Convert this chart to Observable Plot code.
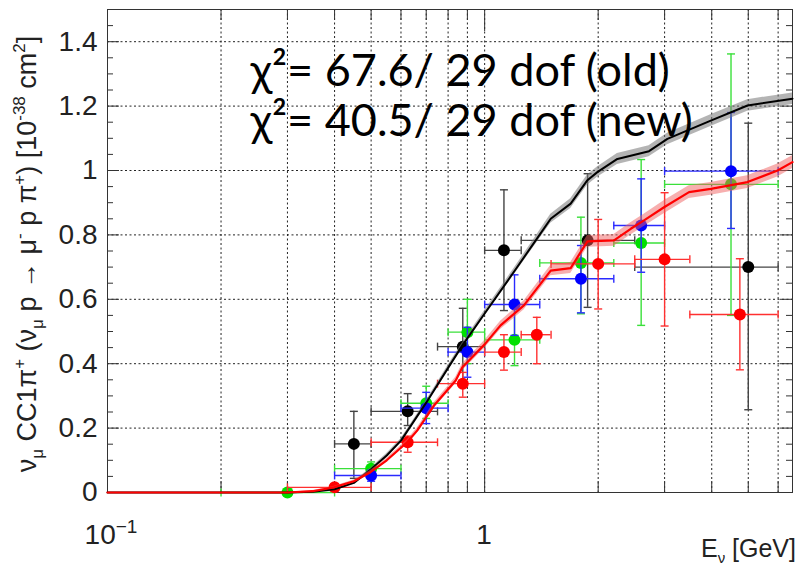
<!DOCTYPE html>
<html>
<head>
<meta charset="utf-8">
<script src="https://cdn.jsdelivr.net/npm/d3@7"></script>
<script src="https://cdn.jsdelivr.net/npm/@observablehq/plot@0.6"></script>
<style>
  html, body { margin: 0; padding: 0; background: #fff; }
  #chart svg { display: block; }
</style>
</head>
<body>
<div id="chart"></div>
<script>
// ---- Model predictions: neutrino energy (GeV) vs cross section (1e-38 cm^2) ----
const oldE    = [0.1, 0.3, 0.35, 0.4, 0.45, 0.5, 0.55, 0.6, 0.7, 0.8, 0.873, 1.0, 1.2, 1.366, 1.497, 1.691, 1.873, 1.99, 2.249, 2.728, 3.052, 3.977, 4.977, 6.55];
const oldXs   = [0, 0, 0.002, 0.01, 0.03, 0.072, 0.115, 0.161, 0.279, 0.387, 0.457, 0.556, 0.688, 0.783, 0.85, 0.897, 0.97, 0.995, 1.036, 1.06, 1.098, 1.155, 1.202, 1.223];
const oldBand = [0, 0, 0.001, 0.003, 0.004, 0.005, 0.006, 0.006, 0.007, 0.008, 0.008, 0.009, 0.01, 0.012, 0.014, 0.015, 0.016, 0.016, 0.017, 0.017, 0.018, 0.018, 0.018, 0.018];

const newE    = [0.1, 0.3, 0.35, 0.398, 0.45, 0.498, 0.55, 0.623, 0.663, 0.734, 0.838, 0.873, 1.0, 1.102, 1.271, 1.497, 1.691, 1.873, 2.203, 2.44, 2.646, 2.99, 3.483, 3.977, 4.977, 5.98, 6.55];
const newXs   = [0, 0, 0.004, 0.016, 0.035, 0.063, 0.1, 0.156, 0.193, 0.27, 0.348, 0.389, 0.46, 0.519, 0.581, 0.689, 0.697, 0.78, 0.783, 0.819, 0.845, 0.886, 0.933, 0.943, 0.964, 1.0, 1.026];
const newBand = [0, 0, 0.002, 0.003, 0.004, 0.005, 0.006, 0.007, 0.008, 0.009, 0.01, 0.011, 0.012, 0.013, 0.014, 0.016, 0.017, 0.018, 0.018, 0.019, 0.019, 0.02, 0.02, 0.02, 0.02, 0.02, 0.02];

// ---- Measurements: energy, bin edges, cross section, error range ----
const blackE    = [0.45, 0.625, 0.875, 1.125, 1.875, 5.0];
const blackLo   = [0.4, 0.5, 0.75, 1.0, 1.25, 2.5];
const blackHi   = [0.5, 0.75, 1.0, 1.25, 2.5, 6.0];
const blackXs   = [0.151, 0.252, 0.453, 0.752, 0.783, 0.70];
const blackErrLo = [0.044, 0.208, 0.338, 0.565, 0.575, 0.257];
const blackErrHi = [0.252, 0.307, 0.572, 0.94, 0.99, 1.147];

const greenE    = [0.3, 0.5, 0.7, 0.9, 1.2, 1.8, 2.6, 4.5];
const greenLo   = [0.2, 0.4, 0.6, 0.8, 1.0, 1.4, 2.2, 3.0];
const greenHi   = [0.4, 0.6, 0.8, 1.0, 1.4, 2.2, 3.0, 6.0];
const greenXs   = [0.0, 0.074, 0.277, 0.498, 0.474, 0.713, 0.775, 0.957];
const greenErrLo = [0.0, 0.055, 0.23, 0.40, 0.394, 0.555, 0.519, 0.55];
const greenErrHi = [0.006, 0.095, 0.33, 0.60, 0.575, 0.855, 1.034, 1.362];

const blueE     = [0.5, 0.7, 0.9, 1.2, 1.8, 2.6, 4.5];
const blueLo    = [0.4, 0.6, 0.8, 1.0, 1.4, 2.2, 3.0];
const blueHi    = [0.6, 0.8, 1.0, 1.4, 2.2, 3.0, 6.0];
const blueXs    = [0.053, 0.262, 0.436, 0.584, 0.664, 0.829, 0.998];
const blueErrLo = [0.035, 0.214, 0.358, 0.488, 0.558, 0.684, 0.82];
const blueErrHi = [0.07, 0.311, 0.513, 0.676, 0.767, 0.974, 1.18];

const redE      = [0.4, 0.625, 0.875, 1.125, 1.375, 2.0, 3.0, 4.75];
const redLo     = [0.3, 0.5, 0.75, 1.0, 1.25, 1.5, 2.5, 3.5];
const redHi     = [0.5, 0.75, 1.0, 1.25, 1.5, 2.5, 3.5, 6.0];
const redXs     = [0.016, 0.156, 0.338, 0.436, 0.49, 0.71, 0.724, 0.553];
const redErrLo  = [0.006, 0.125, 0.296, 0.38, 0.40, 0.57, 0.517, 0.381];
const redErrHi  = [0.026, 0.175, 0.373, 0.49, 0.544, 0.848, 0.931, 0.726];

// ---- Axis ticks and labels ----
const yMajor = [0, 0.2, 0.4, 0.6, 0.8, 1.0, 1.2, 1.4];
const yTickLabels = ["0", "0.2", "0.4", "0.6", "0.8", "1", "1.2", "1.4"];
const yMinor = d3.range(0, 1.5001, 0.05).filter(v => Math.abs(v / 0.2 - Math.round(v / 0.2)) > 1e-6);
const xMajor = [1];
const xMinor = [0.2, 0.3, 0.4, 0.5, 0.6, 0.7, 0.8, 0.9, 2, 3, 4, 5, 6];
const xGrid = [...xMinor.slice(0, 8), 1, ...xMinor.slice(8)];
const chiLines = ["χ²= 67.6/ 29 dof (old)", "χ²= 40.5/ 29 dof (new)"];

// ---- Layout ----
const W = 803, H = 566;
const mL = 107, mR = 11, mT = 9, mB = 74;
const innerW = W - mL - mR, innerH = H - mT - mB;

function rowsOf(E, lo, hi, xs, eLo, eHi) {
  return E.map((e, i) => ({e, lo: lo[i], hi: hi[i], xs: xs[i], eLo: eLo[i], eHi: eHi[i]}));
}
function curveOf(E, xs, band) {
  return E.map((e, i) => ({e, xs: xs[i], lo: Math.max(0, xs[i] - band[i]), hi: xs[i] + band[i]}));
}

// error-bar end caps as custom symbols (r = half length)
const capH = {draw(ctx, size) { const w = Math.sqrt(size / Math.PI); ctx.moveTo(-w, 0); ctx.lineTo(w, 0); }};
const capV = {draw(ctx, size) { const h = Math.sqrt(size / Math.PI); ctx.moveTo(0, -h); ctx.lineTo(0, h); }};

function seriesMarks(rows, barColor, dotColor) {
  const yCaps = rows.flatMap(r => [{x: r.e, y: r.eLo}, {x: r.e, y: r.eHi}]);
  const xCaps = rows.flatMap(r => [{x: r.lo, y: r.xs}, {x: r.hi, y: r.xs}]);
  return [
    Plot.ruleY(rows, {y: "xs", x1: "lo", x2: "hi", stroke: barColor, strokeWidth: 1.4}),
    Plot.ruleX(rows, {x: "e", y1: "eLo", y2: "eHi", stroke: barColor, strokeWidth: 1.4}),
    Plot.dot(yCaps, {x: "x", y: "y", symbol: capH, r: 4, stroke: barColor, strokeWidth: 1.4, fill: "none"}),
    Plot.dot(xCaps, {x: "x", y: "y", symbol: capV, r: 4, stroke: barColor, strokeWidth: 1.4, fill: "none"}),
    Plot.dot(rows, {x: "e", y: "xs", r: 6, fill: dotColor, stroke: "none"})
  ];
}

const blackRows = rowsOf(blackE, blackLo, blackHi, blackXs, blackErrLo, blackErrHi);
const greenRows = rowsOf(greenE, greenLo, greenHi, greenXs, greenErrLo, greenErrHi);
const blueRows  = rowsOf(blueE, blueLo, blueHi, blueXs, blueErrLo, blueErrHi);
const redRows   = rowsOf(redE, redLo, redHi, redXs, redErrLo, redErrHi);
const oldCurve = curveOf(oldE, oldXs, oldBand);
const newCurve = curveOf(newE, newXs, newBand);

const plot = Plot.plot({
  width: W, height: H,
  marginLeft: mL, marginRight: mR, marginTop: mT, marginBottom: mB,
  style: {fontFamily: "'Liberation Sans', Arial, sans-serif", fontSize: "28px", color: "#222", background: "#fff"},
  x: {type: "log", domain: [0.1, 6.55], axis: null},
  y: {domain: [0, 1.5], axis: null},
  marks: [
    // dotted grid
    Plot.ruleX(xGrid, {stroke: "#222", strokeWidth: 1, strokeDasharray: "2,2.5"}),
    Plot.ruleY(yMajor.slice(1), {stroke: "#222", strokeWidth: 1, strokeDasharray: "2,2.5"}),
    // inward ticks on all four sides
    Plot.ruleX(xMinor, {stroke: "#333", insetTop: innerH - 11}),
    Plot.ruleX(xMajor, {stroke: "#333", insetTop: innerH - 22}),
    Plot.ruleX(xMinor, {stroke: "#333", insetBottom: innerH - 11}),
    Plot.ruleX(xMajor, {stroke: "#333", insetBottom: innerH - 22}),
    Plot.ruleY(yMajor, {stroke: "#333", insetRight: innerW - 12}),
    Plot.ruleY(yMinor, {stroke: "#333", insetRight: innerW - 6}),
    Plot.ruleY(yMajor, {stroke: "#333", insetLeft: innerW - 12}),
    Plot.ruleY(yMinor, {stroke: "#333", insetLeft: innerW - 6}),
    Plot.frame({stroke: "#333"}),
    // measurements
    ...seriesMarks(blackRows, "#444", "#000"),
    ...seriesMarks(greenRows, "#3ae03a", "#00e000"),
    ...seriesMarks(blueRows, "#2a2aff", "#0000ff"),
    ...seriesMarks(redRows, "#ff3030", "#ff0000"),
    // old and new predictions with uncertainty bands
    Plot.areaY(oldCurve, {x: "e", y1: "lo", y2: "hi", fill: "#777", fillOpacity: 0.55}),
    Plot.line(oldCurve, {x: "e", y: "xs", stroke: "#000", strokeWidth: 2}),
    Plot.areaY(newCurve, {x: "e", y1: "lo", y2: "hi", fill: "#f06060", fillOpacity: 0.5}),
    Plot.line(newCurve, {x: "e", y: "xs", stroke: "#ff0000", strokeWidth: 2.2}),
    // y tick labels
    Plot.axisY({ticks: yMajor, tickSize: 0, tickPadding: 10, fontSize: 28,
                tickFormat: d => yTickLabels[yMajor.findIndex(v => Math.abs(v - d) < 1e-9)]}),
    // fit quality annotations
    Plot.text([chiLines[0]], {text: d => d, frameAnchor: "top-left", textAnchor: "start", lineAnchor: "bottom",
      dx: 143, dy: 76, fontFamily: "Lato, 'Open Sans', sans-serif", fontSize: 45, fill: "#000"}),
    Plot.text([chiLines[1]], {text: d => d, frameAnchor: "top-left", textAnchor: "start", lineAnchor: "bottom",
      dx: 143, dy: 126, fontFamily: "Lato, 'Open Sans', sans-serif", fontSize: 45, fill: "#000"})
  ]
});

document.getElementById("chart").appendChild(plot);

// axis titles and decade labels with sub/superscripts
const svg = d3.select(plot);
const xs = plot.scale("x");
const lab = svg.append("g").attr("fill", "#222").attr("font-family", "'Liberation Sans', Arial, sans-serif");

const t10 = lab.append("text").attr("x", xs.apply(0.1) + 4).attr("y", 544).attr("text-anchor", "middle").attr("font-size", 28);
t10.append("tspan").text("10");
t10.append("tspan").attr("font-size", 19).attr("dy", -11).text("−1");
lab.append("text").attr("x", xs.apply(1)).attr("y", 544).attr("text-anchor", "middle").attr("font-size", 28).text("1");

const tx = lab.append("text").attr("x", 796).attr("y", 557).attr("text-anchor", "end").attr("font-size", 25);
tx.append("tspan").text("E");
tx.append("tspan").attr("font-size", 15).attr("dy", 6).text("ν");
tx.append("tspan").attr("dy", -6).text(" [GeV]");

const ty = lab.append("text").attr("transform", "translate(36,254) rotate(-90)").attr("text-anchor", "middle").attr("font-size", 27);
function seg(t, kind) {
  const s = ty.append("tspan").text(t);
  if (kind === "sub") s.attr("font-size", 17).attr("dy", 7);
  if (kind === "subEnd") s.attr("dy", -7);
  if (kind === "sup") s.attr("font-size", 17).attr("dy", -11);
  if (kind === "supEnd") s.attr("dy", 11);
  return s;
}
seg("ν"); seg("μ", "sub"); seg(" CC1π", "subEnd"); seg("+", "sup");
seg(" (ν", "supEnd"); seg("μ", "sub"); seg(" p → μ", "subEnd"); seg("-", "sup");
seg(" p π", "supEnd"); seg("+", "sup"); seg(") [10", "supEnd"); seg("-38", "sup");
seg(" cm", "supEnd"); seg("2", "sup"); seg("]", "supEnd");
</script>
</body>
</html>
